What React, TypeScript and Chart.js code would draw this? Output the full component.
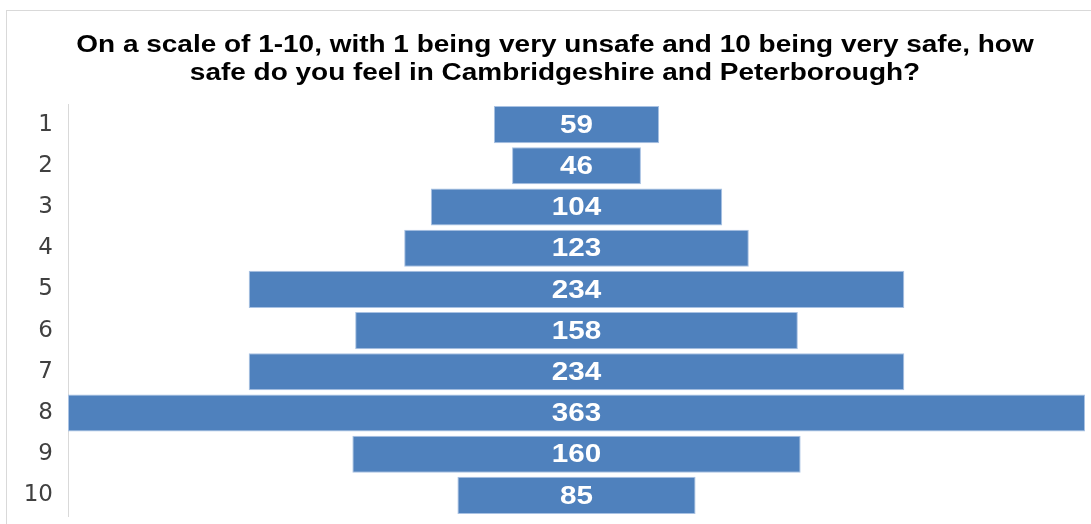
import React, { useEffect, useRef } from "react";
import { Chart, registerables } from "chart.js";

Chart.register(...registerables);

const categories = ["1", "2", "3", "4", "5", "6", "7", "8", "9", "10"];
const responses = [59, 46, 104, 123, 234, 158, 234, 363, 160, 85];
const titleLines = [
  "On a scale of 1-10, with 1 being very unsafe and 10 being very safe, how",
  "safe do you feel in Cambridgeshire and Peterborough?",
];

const maxValue = Math.max(...responses);

const stretchedText = (ctx: CanvasRenderingContext2D, text: string, cx: number, cy: number, sx: number) => {
  ctx.save();
  ctx.translate(cx, cy);
  ctx.scale(sx, 1);
  ctx.fillText(text, 0, 0);
  ctx.restore();
};

const titlePlugin = {
  id: "stretchedTitle",
  afterDraw(chart: any) {
    const { ctx } = chart;
    ctx.save();
    ctx.fillStyle = "#000000";
    ctx.font = "bold 23.5px 'Liberation Sans', Arial, sans-serif";
    ctx.textAlign = "center";
    ctx.textBaseline = "middle";
    const cx = 555;
    titleLines.forEach((line, i) => stretchedText(ctx, line, cx, 46 + i * 28, 1.19));
    ctx.restore();
  },
};

const centerLabels = {
  id: "centerLabels",
  afterDatasetsDraw(chart: any) {
    const { ctx } = chart;
    const meta = chart.getDatasetMeta(0);
    ctx.save();
    ctx.fillStyle = "#ffffff";
    ctx.font = "bold 26px 'Liberation Sans', Arial, sans-serif";
    ctx.textAlign = "center";
    ctx.textBaseline = "middle";
    meta.data.forEach((bar: any, i: number) => {
      const cx = (bar.x + bar.base) / 2;
      stretchedText(ctx, String(responses[i]), cx, bar.y + 1, 1.14);
    });
    ctx.restore();
  },
};

export default function App() {
  const ref = useRef<HTMLCanvasElement>(null);
  useEffect(() => {
    if (!ref.current) return;
    const chart = new Chart(ref.current, {
      type: "bar",
      data: {
        labels: categories,
        datasets: [
          {
            data: responses.map((v) => [-v / 2, v / 2]) as any,
            backgroundColor: "#4f81bd",
            borderColor: "#a9c2e3",
            borderWidth: 1,
            borderSkipped: false,
            barPercentage: 0.9,
            categoryPercentage: 1,
          },
        ],
      },
      options: {
        indexAxis: "y",
        responsive: false,
        animation: false,
        layout: { padding: { left: 0, right: 6, top: 104, bottom: 8 } },
        plugins: {
          legend: { display: false },
          tooltip: { enabled: false },
          title: { display: false },
        },
        scales: {
          x: {
            display: false,
            min: -maxValue / 2,
            max: maxValue / 2,
          },
          y: {
            grid: { display: false, drawTicks: false },
            border: { display: true, color: "#d9d9d9", width: 1 },
            ticks: {
              color: "#404040",
              padding: 15,
              font: { family: "'DejaVu Sans', sans-serif", size: 23 },
            },
            afterFit(scale: any) {
              scale.width = 68;
              scale.paddingTop = 0;
              scale.paddingBottom = 0;
            },
          },
        },
      },
      plugins: [centerLabels, titlePlugin],
    });
    return () => chart.destroy();
  }, []);
  return (
    <div style={{ position: "fixed", left: 0, top: 0, width: 1091, height: 524, overflow: "hidden", background: "#fff" }}>
      <div
        style={{
          position: "absolute",
          left: 6,
          top: 10,
          width: 1120,
          height: 560,
          border: "1px solid #d9d9d9",
        }}
      />
      <canvas ref={ref} width={1091} height={524} style={{ position: "absolute", left: 0, top: 0, display: "block" }} />
    </div>
  );
}
